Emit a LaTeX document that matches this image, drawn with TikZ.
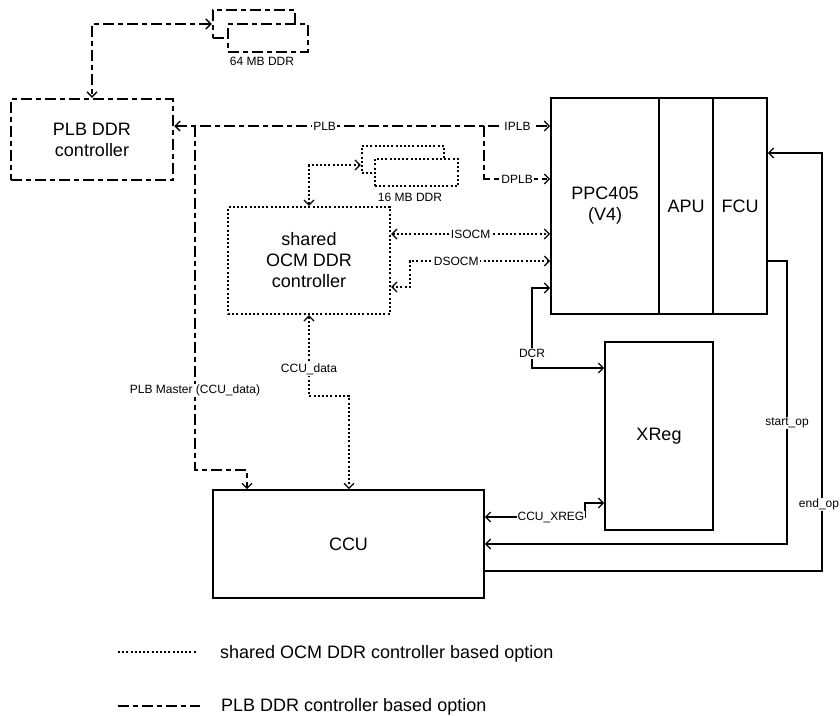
\documentclass[tikz,border=0pt]{standalone}
\usepackage{fontspec}
\setmainfont{Liberation Sans}
\usetikzlibrary{arrows.meta}
\begin{document}
\begin{tikzpicture}[x=1pt,y=-1pt,
  >={Straight Barb[length=5pt,width=10pt,line width=1.3pt]},
  box/.style={draw,line width=1.6pt,fill=white,inner sep=0pt,align=center,font=\fontsize{18}{21}\selectfont},
  plbl/.style={line width=2.5pt,dash pattern=on 11pt off 4pt on 5pt off 4pt},
  ocml/.style={line width=2.2pt,dash pattern=on 2pt off 2.2pt},
  sig/.style={line width=1.6pt},
  lbl/.style={fill=white,inner sep=1pt,font=\fontsize{12}{14}\selectfont},
  leg/.style={anchor=base west,inner sep=0pt,font=\fontsize{18}{21}\selectfont},
]
\useasboundingbox (0,0) rectangle (840,715);

% boxes
\node[box,plbl,minimum width=162pt,minimum height=81pt] (plbctl) at (92,139.5) {PLB DDR\\controller};
\node[box,plbl,minimum width=82pt,minimum height=28pt] (d64b) at (254,24) {};
\node[box,plbl,minimum width=80pt,minimum height=28pt] (d64f) at (268,38) {};
\node[lbl,fill=none] (d64l) at (262,61) {64 MB DDR};

\node[box,ocml,minimum width=162pt,minimum height=107pt] (ocm) at (309,260.5) {shared\\OCM DDR\\controller};
\node[box,ocml,minimum width=82pt,minimum height=27pt] (d16b) at (403,159.5) {};
\node[box,ocml,minimum width=83pt,minimum height=27pt] (d16f) at (416.5,172.5) {};
\node[lbl,fill=none] (d16l) at (410,197) {16 MB DDR};

\node[box,minimum width=108pt,minimum height=216pt] (ppc) at (605,206) {PPC405\\(V4)};
\node[box,minimum width=54pt,minimum height=216pt] (apu) at (686,206) {APU};
\node[box,minimum width=54pt,minimum height=216pt] (fcu) at (740,206) {FCU};
\node[box,minimum width=108pt,minimum height=188pt] (xreg) at (659,436) {XReg};
\node[box,minimum width=271pt,minimum height=108pt] (ccu) at (348.5,544) {CCU};

% PLB connections
\coordinate (jplb) at (484,126);
\coordinate (jm) at (195,126);
\draw[plbl,<->] (d64b.west) -| (plbctl.north);
\draw[plbl,<->] (plbctl.east |- 0,126) -- node[lbl,pos=0.40]{PLB} node[lbl,pos=0.913]{IPLB} (ppc.west |- 0,126);
\draw[plbl,->] (jplb) |- node[lbl,pos=0.75]{DPLB} (ppc.west |- 0,179);
\draw[plbl,->] (jm) -- node[lbl,pos=0.77]{PLB Master (CCU\_data)} (195,470) -| (ccu.north -| 247,0);

% OCM connections
\draw[ocml,<->] (ocm.north) |- (d16b.west |- 0,165);
\draw[ocml,<->] (ocm.east |- 0,234) -- node[lbl,pos=0.5]{ISOCM} (ppc.west |- 0,234);
\draw[ocml,<->] (ppc.west |- 0,261) -- node[lbl,pos=0.67]{DSOCM} (410,261) -- (410,287) -- (ocm.east |- 0,287);
\draw[ocml,<->] (ocm.south) -- node[lbl,pos=0.67]{CCU\_data} (ocm.south |- 0,396) -| (ccu.north -| 349,0);

% solid signals
\draw[sig,<->] (ppc.west |- 0,288) -- (532,288) |- node[lbl,pos=0.41]{DCR} (xreg.west |- 0,368);
\draw[sig,<->] (ccu.east |- 0,517) -- node[lbl,pos=0.66]{CCU\_XREG} (585,517) |- (xreg.west |- 0,503);
\draw[sig,->] (fcu.east |- 0,261) -- (787,261) -- node[lbl,pos=0.572]{start\_op} (787,544) -- (ccu.east |- 0,544);
\draw[sig,->] (ccu.east |- 0,571) -- (822,571) -- node[lbl,pos=0.16,xshift=-3pt]{end\_op} (822,153) -- (fcu.east |- 0,153);

% legend
\coordinate (l1a) at (118,652);
\coordinate (l1b) at (197,652);
\coordinate (l2a) at (118,706);
\coordinate (l2b) at (200,706);
\draw[ocml] (l1a) -- (l1b);
\node[leg] (l1t) at (220,658.5) {shared OCM DDR controller based option};
\draw[plbl] (l2a) -- (l2b);
\node[leg] (l2t) at (221,711) {PLB DDR controller based option};
\end{tikzpicture}
\end{document}
